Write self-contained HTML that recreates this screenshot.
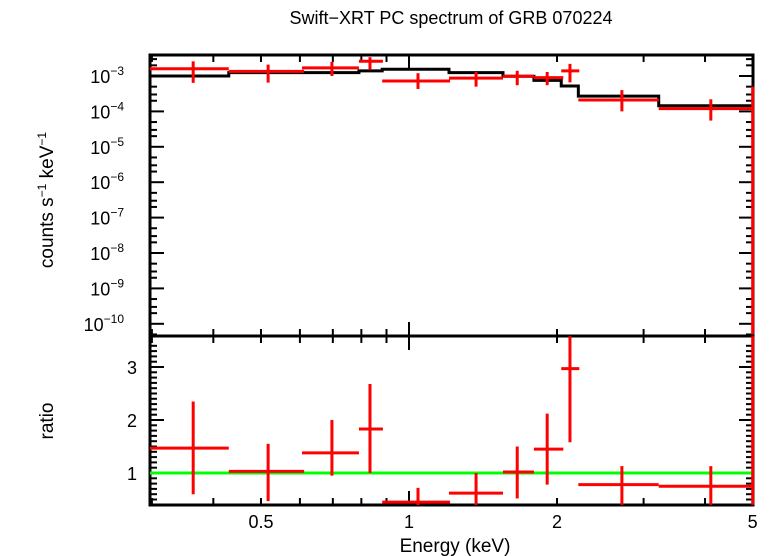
<!DOCTYPE html>
<html><head><meta charset="utf-8"><style>
body{margin:0;background:#fff;}
svg{display:block;font-family:"Liberation Sans",sans-serif;}
</style></head><body>
<svg id="chart" width="771" height="556" viewBox="0 0 771 556" xmlns="http://www.w3.org/2000/svg">
<text x="451" y="24" font-size="18" text-anchor="middle">Swift−XRT PC spectrum of GRB 070224</text>
<text transform="translate(53,200) rotate(-90)" font-size="19" text-anchor="middle">counts s<tspan font-size="12" dy="-7">−1</tspan><tspan dy="7"> keV</tspan><tspan font-size="12" dy="-7">−1</tspan></text>
<text transform="translate(53,421) rotate(-90)" font-size="19" text-anchor="middle">ratio</text>
<text x="455" y="552" font-size="19" text-anchor="middle">Energy (keV)</text>
<g id="g"></g>
</svg>
<script>
const binLo = [0.297,0.430,0.606,0.791,0.882,1.206,1.553,1.795,2.04,2.21,3.22,4.97];
const binHi = [0.430,0.612,0.791,0.885,1.212,1.553,1.795,2.06,2.22,3.22,4.97,5.05];
const binCenter = [0.364,0.517,0.697,0.833,1.043,1.369,1.66,1.91,2.125,2.71,4.11,5.0];
const counts = [1.6e-3,1.35e-3,1.7e-3,2.6e-3,7.2e-4,8.7e-4,9.8e-4,9.0e-4,1.4e-3,2.1e-4,1.2e-4,3.6e-4];
const countsLo = [6.4e-4,6.5e-4,1.0e-3,1.5e-3,4.3e-4,5.0e-4,5.5e-4,5.5e-4,6.6e-4,1.0e-4,5.5e-5,5e-11];
const countsHi = [2.6e-3,2.1e-3,2.5e-3,3.4e-3,1.2e-3,1.3e-3,1.4e-3,1.3e-3,2.2e-3,4.0e-4,2.2e-4,5.0e-4];
const modelLo = [0.297,0.430,0.791,0.882,1.206,1.553,1.795,2.04,2.21,3.22,4.97];
const modelHi = [0.430,0.791,0.882,1.206,1.553,1.795,2.04,2.21,3.22,4.97,5.05];
const model = [1.0e-3,1.25e-3,1.4e-3,1.55e-3,1.25e-3,9.8e-4,7.5e-4,5.2e-4,2.7e-4,1.45e-4,1.45e-4];
const ratio = [1.47,1.03,1.38,1.83,0.45,0.62,1.02,1.45,2.97,0.78,0.75,3.4];
const ratioLo = [0.6,0.47,0.95,1.0,0.35,0.4,0.52,0.78,1.58,0.4,0.4,0.4];
const ratioHi = [2.35,1.55,2.0,2.68,0.72,1.0,1.5,2.12,3.58,1.13,1.13,3.58];
const xTickLabels = [0.5,1,2,5];
const yTopTicks = [-3,-4,-5,-6,-7,-8,-9,-10];
const yBotTicks = [1,2,3];

const L=150,R=753,T=55,M=336,B=505;
const xs=e=>409+491.7*Math.log10(e);
const yt=v=>76-35.4*(Math.log10(v)+3);
const yr=v=>473-53*(v-1);
const g=document.getElementById('g');
const NS='http://www.w3.org/2000/svg';
function mk(tag,attrs,name,parent){const el=document.createElementNS(NS,tag);for(const k in attrs)el.setAttribute(k,attrs[k]);


(parent||g).appendChild(el);return el;}
function line(x1,y1,x2,y2,c,w,name){return mk('line',{x1,y1,x2,y2,stroke:c,'stroke-width':w},name);}
const clamp=(v,a,b)=>Math.max(a,Math.min(b,v));

// frames
mk('rect',{x:L,y:T,width:R-L,height:B-T,fill:'none',stroke:'#000','stroke-width':3},'plot-frame');
line(L,M,R,M,'#000',3,'panel-divider');
// x ticks
const minorE=[0.3,0.4,0.5,0.6,0.7,0.8,0.9,1,2,3,4,5];
minorE.forEach(e=>{const x=xs(e);const len=e===1?14:7;
 [T,M].forEach(y=>line(x,y,x,y+len,'#000',2,'x-tick-top'));
 [M,B].forEach(y=>line(x,y,x,y-len,'#000',2,'x-tick-bottom'));
});
xTickLabels.forEach(e=>{const t=mk('text',{x:xs(e),y:528,'font-size':18,'text-anchor':'middle'},'x-tick-label');t.textContent=e;});
// y top ticks
for(let p=-2;p>=-11;p--){[1,2,3,5].forEach(k=>{const v=k*Math.pow(10,p);const y=yt(v);if(y<T||y>M)return;const len=k===1?14:7;
 line(L,y,L+len,y,'#000',2,'y-tick-left');line(R,y,R-len,y,'#000',2,'y-tick-right');});}
yTopTicks.forEach(p=>{const t=mk('text',{x:124,y:yt(Math.pow(10,p))+7,'font-size':18,'text-anchor':'end'},'y-tick-label');
 t.textContent='10';const s=document.createElementNS(NS,'tspan');s.setAttribute('font-size','12');s.setAttribute('dy','-8');s.textContent='−'+(-p);t.appendChild(s);});
// y bottom ticks
for(let v=0.5;v<=3.5;v+=0.1){const y=yr(v);if(y<M||y>B)continue;const maj=Math.abs(v-Math.round(v))<0.01;const len=maj?14:7;
 line(L,y,L+len,y,'#000',2,'ratio-tick-left');line(R,y,R-len,y,'#000',2,'ratio-tick-right');}
yBotTicks.forEach(v=>{const t=mk('text',{x:137,y:yr(v)+7,'font-size':18,'text-anchor':'end'},'ratio-tick-label');t.textContent=v;});

// model step
let d='';
for(let i=0;i<model.length;i++){const y=yt(model[i]);d+=(i?'L':'M')+clamp(xs(modelLo[i]),L,R)+','+y+'L'+clamp(xs(modelHi[i]),L,R)+','+y;}
mk('path',{d,fill:'none',stroke:'#000','stroke-width':3},'model-line');
// data top
for(let i=0;i<counts.length;i++){
 const x1=clamp(xs(binLo[i]),L,R),x2=clamp(xs(binHi[i]),L,R),xc=clamp(xs(binCenter[i]),L,R);
 line(x1,yt(counts[i]),x2,yt(counts[i]),'#f00',3,'data-point-'+i+'-xerr');
 line(xc,clamp(yt(countsHi[i]),T,M),xc,clamp(yt(countsLo[i]),T,M),'#f00',3,'data-point-'+i+'-yerr');
}
// ratio
line(L,yr(1),R,yr(1),'#0f0',3,'unity-line');
for(let i=0;i<ratio.length;i++){
 const x1=clamp(xs(binLo[i]),L,R),x2=clamp(xs(binHi[i]),L,R),xc=clamp(xs(binCenter[i]),L,R);
 line(x1,yr(ratio[i]),x2,yr(ratio[i]),'#f00',3,'ratio-point-'+i+'-xerr');
 line(xc,clamp(yr(ratioHi[i]),M,B),xc,clamp(yr(ratioLo[i]),M,B),'#f00',3,'ratio-point-'+i+'-yerr');
}
</script>
</body></html>
